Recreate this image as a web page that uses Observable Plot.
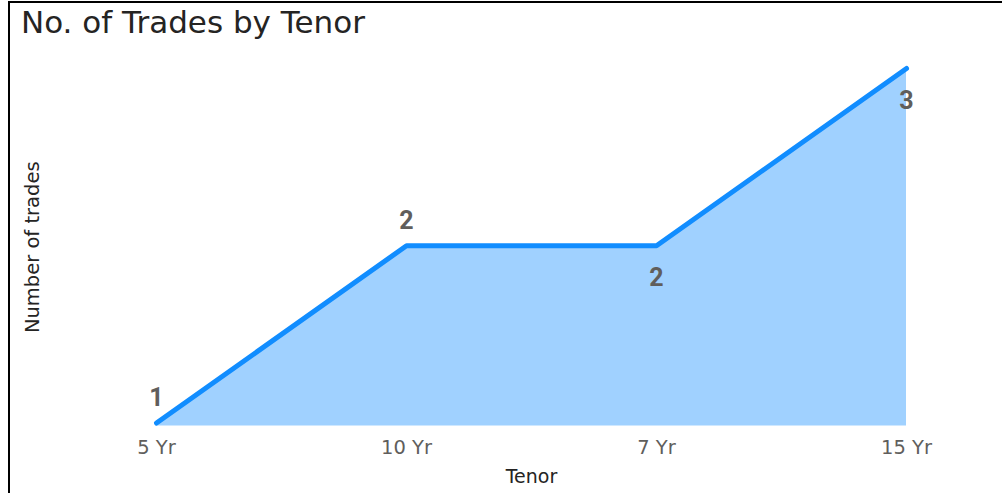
<!DOCTYPE html>
<html>
<head>
<meta charset="utf-8">
<script src="https://cdn.jsdelivr.net/npm/d3@7"></script>
<script src="https://cdn.jsdelivr.net/npm/@observablehq/plot@0.6"></script>
<style>
  html, body { margin: 0; padding: 0; background: #fff; }
  #wrap { position: relative; width: 1002px; height: 493px; overflow: hidden; }
  #frame { position: absolute; left: 8px; top: 1px; right: -10px; bottom: -10px;
           border-left: 2px solid #000; border-top: 2px solid #000; }
  #title { position: absolute; left: 21px; top: 4px; font-family: "DejaVu Sans", sans-serif;
           font-size: 31px; line-height: 36px; color: #252423; white-space: nowrap; }
  #chart { position: absolute; left: 0; top: 0; }
</style>
</head>
<body>
<div id="wrap">
  <div id="chart"></div>
  <div id="frame"></div>
  <div id="title">No. of Trades by Tenor</div>
</div>
<script>
const tenors = ["5 Yr", "10 Yr", "7 Yr", "15 Yr"];
const trades = [1, 2, 2, 3];
const xTitle = "Tenor";
const yTitle = "Number of trades";

const data = tenors.map((t, i) => ({tenor: t, count: trades[i], i}));
const above = data.filter(d => d.i < 2);
const below = data.filter(d => d.i >= 2);

const chart = Plot.plot({
  width: 1002,
  height: 493,
  marginLeft: 155,
  marginRight: 95,
  marginTop: 68,
  marginBottom: 67.5,
  insetBottom: 3,
  style: {fontFamily: "DejaVu Sans, sans-serif", fontSize: "19.5px", color: "#605E5C", background: "transparent"},
  x: {type: "point", domain: tenors, padding: 0, label: null, tickSize: 0, tickPadding: 14},
  y: {domain: [1, 3], axis: null},
  marks: [
    Plot.areaY(data, {x: "tenor", y1: 0, y2: "count", fill: "#118DFF", fillOpacity: 0.4, clip: true}),
    Plot.lineY(data, {x: "tenor", y: "count", stroke: "#118DFF", strokeWidth: 5, strokeLinecap: "round", strokeLinejoin: "round"}),
    Plot.text(above, {x: "tenor", y: "count", text: d => String(d.count), dy: -25,
      fontFamily: "Roboto", fontWeight: "bold", fontSize: 25, fill: "#605E5C"}),
    Plot.text(below, {x: "tenor", y: "count", text: d => String(d.count), dy: 32,
      fontFamily: "Roboto", fontWeight: "bold", fontSize: 25, fill: "#605E5C"}),
    Plot.text([xTitle], {frameAnchor: "bottom", text: d => d, dy: 57, fontSize: 19, fill: "#252423"}),
    Plot.text([yTitle], {frameAnchor: "left", textAnchor: "middle", lineAnchor: "middle", text: d => d, dx: -123, rotate: -90, fontSize: 19.5, fill: "#252423"})
  ]
});
document.getElementById("chart").appendChild(chart);
</script>
</body>
</html>
